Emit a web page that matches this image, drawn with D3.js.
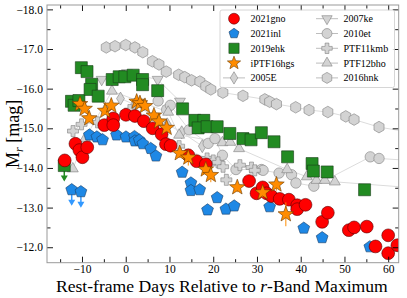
<!DOCTYPE html>
<html>
<head>
<meta charset="utf-8">
<script src="https://cdn.jsdelivr.net/npm/d3@7"></script>
<style>
  body { margin: 0; background: #fff; }
  text { font-family: "Liberation Serif", "DejaVu Serif", serif; }
</style>
</head>
<body>
<div id="chart"></div>
<script>
// light curves (days vs M_r)
var xTicks = [-10, 0, 10, 20, 30, 40, 50, 60];
var yTicks = [-18, -17, -16, -15, -14, -13, -12];

var gnoDays = [-13.95, -11.5, -10.6, -9.9, -8.8, -4.9, -2.85, -2.85, 0.05, 2.1, 4.15, 6.15, 8.2, 9.2, 10.25, 14.3, 16.2, 18.3, 28.2, 29.9, 31.3, 32.2, 33.3, 35.2, 37.3, 39.2, 39.2, 41.1, 44.9, 46.2, 51.0, 52.2, 55.1, 57.1, 60.0, 60.0, 62.1];
var gnoMags = [-14.19, -14.61, -14.45, -14.27, -14.52, -15.08, -15.25, -15.08, -15.34, -15.31, -15.18, -15.0, -14.85, -14.6, -14.56, -14.32, -14.17, -14.09, -13.67, -13.36, -13.51, -13.36, -13.29, -13.22, -13.2, -13.06, -12.96, -13.07, -12.64, -12.87, -12.43, -12.5, -12.52, -12.02, -12.3, -11.85, -12.05];

var inlDays = [-8.3, -6.6, -5.3, -2.1, 0.05, 2.0, 2.1, 3.1, 3.9, 5.7, 6.9, 12.9, 14.9, 14.9, 16.9, 18.7, 20.9, 22.9, 24.8, 32.9, 40.7, 44.9, 55.8];
var inlMags = [-14.83, -14.78, -14.71, -14.83, -14.78, -14.79, -14.68, -14.7, -14.61, -14.49, -14.3, -13.89, -13.62, -13.43, -13.45, -12.94, -13.25, -12.96, -13.04, -13.02, -12.48, -12.24, -12.01];
var inlLimDays = [-12.35, -10.25];
var inlLimMags = [-13.45, -13.4];

var ehkDays = [-12.4, -11.8, -10.7, -10.15, -8.85, -7.8, -8.15, -6.3, -3.1, -1.5, -0.2, 1.7, 3.85, 3.85, 7.3, 13.0, 15.8, 17.85, 16.55, 18.6, 20.9, 23.8, 26.8, 28.65, 31.0, 33.9, 37.0, 42.6, 42.9, 46.05, 54.6];
var ehkMags = [-15.68, -15.58, -15.7, -16.53, -16.43, -16.11, -15.98, -15.81, -16.23, -16.3, -16.3, -16.34, -16.23, -16.1, -15.95, -15.49, -15.2, -15.2, -15.01, -15.04, -15.04, -14.87, -14.74, -14.71, -14.89, -14.66, -14.28, -14.11, -13.92, -13.9, -13.45];
var ehkLimDays = [-14.05];
var ehkLimMags = [-14.06];

var hgsDays = [-10.45, -9.4, -8.35, -4.7, -3.3, 2.5, 3.25, 4.4, 6.45, 7.6, 9.35, 12.35, 14.3, 18.3, 19.45, 25.5, 31.3, 34.45, 36.6];
var hgsMags = [-15.61, -15.49, -15.25, -15.44, -15.57, -15.67, -15.63, -15.56, -15.32, -15.17, -15.01, -14.37, -14.26, -13.96, -13.82, -13.51, -13.38, -13.58, -12.83];
var hgsErr = [0.08, 0.08, 0.1, 0.08, 0.08, 0.06, 0.06, 0.06, 0.08, 0.08, 0.1, 0.12, 0.2, 0.12, 0.18, 0.12, 0.12, 0.15, 0.3];

var e05Days = [-1.2, 2.0, 9.5, 12.8, 17.5];
var e05Mags = [-15.75, -15.6, -15.1, -14.9, -14.55];

var ke07Days = [-5.5, 0.3, 7.3, 12.4];
var ke07Mags = [-16.23, -16.4, -16.23, -15.68];

var et10Days = [7.4, 9.35, 10.2, 14.5, 18.85, 20.4, 22.1, 25.2, 31.0, 31.4, 35.05, 37.9, 38.9, 43.0, 55.9, 57.9, 66.0];
var et10Mags = [-15.69, -15.47, -15.58, -14.96, -14.62, -14.74, -14.32, -13.96, -13.96, -13.94, -13.87, -13.83, -13.62, -13.54, -14.28, -14.24, -14.18];

var kmbDays = [-12.05, -10.1, -6.45, 0.95, 12.2, 18.6, 20.0, 21.1, 22.25, 23.0, 26.1, 28.75, 29.5];
var kmbMags = [-14.93, -15.1, -15.15, -15.46, -14.55, -14.24, -14.19, -14.14, -14.03, -13.7, -14.07, -14.01, -13.94];

var bhoDays = [-12.1, -9.3, -3.15, 9.7, 12.2, 22.1, 23.9, 25.9, 36.9, 41.4, 43.6, 45.5, 47.8, 68.0];
var bhoMags = [-13.98, -14.74, -15.94, -15.41, -14.83, -14.64, -14.65, -14.49, -13.96, -13.78, -13.69, -13.69, -13.65, -13.48];

var hnkDays = [-4.45, -2.45, 0.0, 2.1, 3.9, 6.1, 7.6, 9.25, 12.1, 13.5, 15.05, 16.95, 18.3, 19.45, 22.2, 26.8, 31.8, 32.9, 34.45, 38.85, 41.9, 46.2, 50.3, 52.2, 57.9, 65.0];
var hnkMags = [-17.04, -17.07, -17.1, -17.04, -16.92, -16.69, -16.61, -16.43, -16.35, -16.29, -16.21, -16.18, -16.06, -15.98, -15.9, -15.82, -15.73, -15.67, -15.61, -15.53, -15.46, -15.41, -15.3, -15.22, -15.03, -14.9];

var width = 407, height = 298;
var margin = {top: 5, right: 8.3, bottom: 35.3, left: 47};
var pw = width - margin.left - margin.right,
    ph = height - margin.top - margin.bottom;

var svg = d3.select("#chart").append("svg")
  .attr("width", width).attr("height", height);
var g = svg.append("g")
  .attr("transform", "translate(" + margin.left + "," + margin.top + ")");

var x = d3.scaleLinear().domain([-18, 62.4]).range([0, pw]);
var y = d3.scaleLinear().domain([-18.11, -11.61]).range([0, ph]);

svg.append("defs").append("clipPath").attr("id", "clip")
  .append("rect").attr("width", pw).attr("height", ph);

// marker shapes
function poly(n, r, rot, inner) {
  var pts = [];
  var k = inner ? 2 * n : n;
  for (var i = 0; i < k; i++) {
    var a = rot + i * 2 * Math.PI / k;
    var rr = (inner && i % 2) ? r * inner : r;
    pts.push([rr * Math.sin(a), -rr * Math.cos(a)]);
  }
  return "M" + pts.map(function(p) { return p[0].toFixed(2) + "," + p[1].toFixed(2); }).join("L") + "Z";
}
function plus(r) {
  var a = r, b = r * 0.36;
  return "M" + -b + "," + -a + "H" + b + "V" + -b + "H" + a + "V" + b + "H" + b + "V" + a + "H" + -b + "V" + b + "H" + -a + "V" + -b + "H" + -b + "Z";
}
function diamond(r) {
  return "M0," + -r + "L" + r * 0.6 + ",0L0," + r + "L" + -r * 0.6 + ",0Z";
}
var shapes = {
  circle: function(s) { return d3.symbol(d3.symbolCircle, Math.PI * s * s)(); },
  pentagon: function(s) { return poly(5, s, 0); },
  square: function(s) { return "M" + -s + "," + -s + "h" + 2 * s + "v" + 2 * s + "h" + -2 * s + "Z"; },
  star: function(s) { return poly(5, s, 0, 0.42); },
  diamond: diamond,
  down: function(s) { return poly(3, s, Math.PI); },
  up: function(s) { return poly(3, s, 0); },
  plus: plus,
  hexagon: function(s) { return poly(6, s, 0); }
};

var series = [
  {name: "2005E", days: e05Days, mags: e05Mags, shape: "diamond", size: 6.5, fill: "#d3d3d3", stroke: "#808080", line: true},
  {name: "2007ke", days: ke07Days, mags: ke07Mags, shape: "down", size: 6.3, fill: "#d3d3d3", stroke: "#808080", line: true},
  {name: "2010et", days: et10Days, mags: et10Mags, shape: "circle", size: 5.2, fill: "#d3d3d3", stroke: "#808080", line: true},
  {name: "PTF11kmb", days: kmbDays, mags: kmbMags, shape: "plus", size: 5.5, fill: "#d3d3d3", stroke: "#808080", line: true},
  {name: "PTF12bho", days: bhoDays, mags: bhoMags, shape: "up", size: 6.3, fill: "#d3d3d3", stroke: "#808080", line: true},
  {name: "2016hnk", days: hnkDays, mags: hnkMags, shape: "hexagon", size: 5.8, fill: "#d3d3d3", stroke: "#808080", line: true},
  {name: "2019ehk", days: ehkDays, mags: ehkMags, shape: "square", size: 6, fill: "#228b22", stroke: "#1a3d1a", limDays: ehkLimDays, limMags: ehkLimMags, arrow: "#228b22"},
  {name: "2021inl", days: inlDays, mags: inlMags, shape: "pentagon", size: 6.2, fill: "#1e88e5", stroke: "#1c3f66", limDays: inlLimDays, limMags: inlLimMags, arrow: "#3399ff"},
  {name: "2021gno", days: gnoDays, mags: gnoMags, shape: "circle", size: 6.4, fill: "#ff0000", stroke: "#5a0000"},
  {name: "iPTF16hgs", days: hgsDays, mags: hgsMags, err: hgsErr, shape: "star", size: 8.2, fill: "#ff8c00", stroke: "#6b3a00"}
];

var plot = g.append("g").attr("clip-path", "url(#clip)");

// connecting lines for comparison objects
series.filter(function(s) { return s.line; }).forEach(function(s) {
  var pts = s.days.map(function(d, i) { return [d, s.mags[i]]; })
    .sort(function(a, b) { return a[0] - b[0]; });
  plot.append("path")
    .datum(pts)
    .attr("fill", "none")
    .attr("stroke", "#dcdcdc")
    .attr("stroke-width", 1)
    .attr("d", d3.line().x(function(d) { return x(d[0]); }).y(function(d) { return y(d[1]); }));
});

series.forEach(function(s) {
  var pts = s.days.map(function(d, i) { return {d: d, m: s.mags[i], e: s.err ? s.err[i] : 0}; });
  if (s.err) {
    plot.selectAll(null).data(pts).enter().append("line")
      .attr("x1", function(p) { return x(p.d); }).attr("x2", function(p) { return x(p.d); })
      .attr("y1", function(p) { return y(p.m - p.e); }).attr("y2", function(p) { return y(p.m + p.e); })
      .attr("stroke", s.fill).attr("stroke-width", 1);
  }
  if (s.limDays) {
    var lim = s.limDays.map(function(d, i) { return {d: d, m: s.limMags[i]}; });
    var ag = plot.selectAll(null).data(lim).enter().append("g")
      .attr("transform", function(p) { return "translate(" + x(p.d) + "," + y(p.m) + ")"; });
    ag.append("line").attr("x1", 0).attr("x2", 0).attr("y1", 0).attr("y2", 14)
      .attr("stroke", s.arrow).attr("stroke-width", 1.5);
    ag.append("path").attr("d", "M-3.5,10L3.5,10L0,16Z").attr("fill", s.arrow);
    ag.append("path").attr("d", shapes[s.shape](s.size))
      .attr("fill", s.fill).attr("stroke", s.stroke).attr("stroke-width", 0.6);
  }
  plot.selectAll(null).data(pts).enter().append("path")
    .attr("transform", function(p) { return "translate(" + x(p.d) + "," + y(p.m) + ")"; })
    .attr("d", shapes[s.shape](s.size))
    .attr("fill", s.fill)
    .attr("stroke", s.stroke)
    .attr("stroke-width", 0.6);
});

// axes, ticks inward on all sides
var xMinor = d3.range(-15, 63, 10);
var yMinor = d3.range(-17.5, -11.6, 1);
function tickAxis(axis, pos, ticks, size, labels, pad) {
  var a = axis.tickValues(ticks).tickSize(size).tickPadding(pad || 5);
  var el = g.append("g").attr("transform", pos).call(a);
  el.select(".domain").remove();
  el.selectAll("line").attr("stroke", "#000").attr("stroke-width", 0.9);
  if (labels) el.selectAll("text").style("font-size", "11.5px").attr("fill", "#000");
  else el.selectAll("text").remove();
  return el;
}
tickAxis(d3.axisBottom(x), "translate(0," + ph + ")", xTicks, -6, true, 2);
tickAxis(d3.axisBottom(x), "translate(0," + ph + ")", xMinor, -3.5, false);
tickAxis(d3.axisTop(x), "translate(0,0)", xTicks, -6, false);
tickAxis(d3.axisTop(x), "translate(0,0)", xMinor, -3.5, false);
tickAxis(d3.axisLeft(y), "translate(0,0)", yTicks, -6, true, 4);
tickAxis(d3.axisLeft(y), "translate(0,0)", yMinor, -3.5, false);
tickAxis(d3.axisRight(y), "translate(" + pw + ",0)", yTicks, -6, false);
tickAxis(d3.axisRight(y), "translate(" + pw + ",0)", yMinor, -3.5, false);

g.append("rect").attr("width", pw).attr("height", ph)
  .attr("fill", "none").attr("stroke", "#9a9a9a").attr("stroke-width", 1);

// axis titles
var xl = svg.append("text")
  .attr("x", margin.left + pw / 2 - 1).attr("y", height - 6)
  .attr("text-anchor", "middle").style("font-size", "17.6px");
xl.append("tspan").text("Rest-frame Days Relative to ");
xl.append("tspan").style("font-style", "italic").text("r");
xl.append("tspan").text("-Band Maximum");

var yl = svg.append("text")
  .attr("transform", "translate(19," + (margin.top + ph / 2) + ") rotate(-90)")
  .attr("text-anchor", "middle").style("font-size", "18px");
yl.append("tspan").text("M");
yl.append("tspan").attr("dy", 4).style("font-size", "12px").style("font-style", "italic").text("r");
yl.append("tspan").attr("dy", -4).text(" [mag]");

// legend
var legOrder = ["2021gno", "2021inl", "2019ehk", "iPTF16hgs", "2005E", "2007ke", "2010et", "PTF11kmb", "PTF12bho", "2016hnk"];
var leg = svg.append("g");
leg.append("rect").attr("x", 220).attr("y", 10).attr("width", 174.5).attr("height", 77.5)
  .attr("rx", 2).attr("fill", "#fff").attr("fill-opacity", 0.85)
  .attr("stroke", "#cccccc").attr("stroke-width", 0.8);
legOrder.forEach(function(name, i) {
  var s = series.find(function(d) { return d.name === name; });
  var col = Math.floor(i / 5), row = i % 5;
  var mx = col ? 327 : 234, ty = 18.7 + row * 14.8;
  var lg = leg.append("g");
  if (s.line) {
    lg.append("line").attr("x1", mx - 11).attr("x2", mx + 11).attr("y1", ty).attr("y2", ty)
      .attr("stroke", "#bdbdbd").attr("stroke-width", 1);
  }
  lg.append("path").attr("transform", "translate(" + mx + "," + ty + ")")
    .attr("d", shapes[s.shape](s.line ? s.size * 0.95 : s.size * 0.85))
    .attr("fill", s.fill).attr("stroke", s.stroke).attr("stroke-width", 0.6);
  lg.append("text").attr("x", mx + 16.5).attr("y", ty + 3.5)
    .style("font-size", "10px").text(name);
});
</script>
</body>
</html>
